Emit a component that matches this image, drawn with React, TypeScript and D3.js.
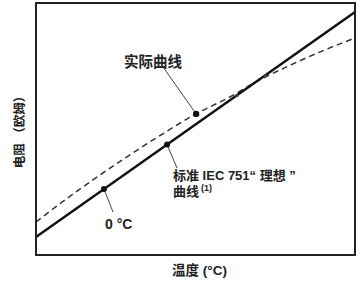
import React from "react";
import * as d3 from "d3";

const temps = [0, 1, 2, 3, 4, 5, 6, 7, 8, 9, 10];
const actualValues = [1.31, 2.27, 3.17, 4.02, 4.83, 5.59, 6.22, 6.94, 7.55, 8.11, 8.61];
const idealTemps = [0, 10];
const idealValues = [0.714, 9.64];
const idealMarkers = [
  { t: 2.13, v: 2.62 },
  { t: 4.11, v: 4.38 },
];
const actualMarkers = [{ t: 5.02, v: 5.6 }];
const crossMarkers = [
  { t: 6.3, v: 6.33 },
  { t: 7.18, v: 7.1 },
];
const xTitle = "温度 (°C)";
const yTitle = "电阻 （欧姆）";
const actualLabel = "实际曲线";
const zeroLabel = "0 °C";
const idealLabel1 = "标准 IEC 751“ 理想 ”";
const idealLabel2 = "曲线";
const idealNote = "(1)";

const W = 361;
const H = 281;
const L = 36, R = 355, T = 3, B = 255;
const FONT = "'Liberation Sans', 'Noto Sans CJK SC', sans-serif";

export default function App() {
  const x = d3.scaleLinear().domain([0, 10]).range([L, R]);
  const y = d3.scaleLinear().domain([0, 10]).range([B, T]);
  const line = d3
    .line<[number, number]>()
    .x((d) => x(d[0]))
    .y((d) => y(d[1]))
    .curve(d3.curveMonotoneX);
  const actualPts = temps.map((t, i) => [t, actualValues[i]] as [number, number]);
  const idealPts = idealTemps.map((t, i) => [t, idealValues[i]] as [number, number]);

  const m0 = idealMarkers[0];
  const m1 = idealMarkers[1];
  const a0 = actualMarkers[0];

  return (
    <svg
      width={W}
      height={H}
      style={{ position: "absolute", left: 0, top: 0, background: "#fff" }}
      fontFamily={FONT}
    >
      <defs>
        <clipPath id="plot">
          <rect x={L} y={T} width={R - L} height={B - T} />
        </clipPath>
      </defs>
      <g clipPath="url(#plot)">
        <path d={line(actualPts) || ""} fill="none" stroke="#333" strokeWidth={1.5} strokeDasharray="6,4" />
        <path d={line(idealPts) || ""} fill="none" stroke="#111" strokeWidth={2.4} />
      </g>
      <line x1={163} y1={67} x2={x(a0.t)} y2={y(a0.v)} stroke="#444" strokeWidth={1} />
      <line x1={x(m0.t)} y1={y(m0.v)} x2={113} y2={212} stroke="#444" strokeWidth={1} />
      <line x1={x(m1.t)} y1={y(m1.v)} x2={177} y2={168} stroke="#444" strokeWidth={1} />
      {idealMarkers.map((m, i) => (
        <circle key={"i" + i} cx={x(m.t)} cy={y(m.v)} r={3} fill="#111" />
      ))}
      {actualMarkers.map((m, i) => (
        <circle key={"a" + i} cx={x(m.t)} cy={y(m.v)} r={3.2} fill="#111" />
      ))}
      {crossMarkers.map((m, i) => (
        <circle key={"c" + i} cx={x(m.t)} cy={y(m.v)} r={1.8} fill="#444" />
      ))}
      <rect x={L} y={T} width={R - L} height={B - T} fill="none" stroke="#222" strokeWidth={2} />
      <text x={124} y={67} fontSize={14.5} fontWeight="bold" fill="#222">{actualLabel}</text>
      <text x={105} y={229} fontSize={14} fontWeight="bold" fill="#222">{zeroLabel}</text>
      <text x={173} y={180} fontSize={13} fontWeight="bold" fill="#222">{idealLabel1}</text>
      <text x={173} y={196} fontSize={13} fontWeight="bold" fill="#222">
        {idealLabel2}
        <tspan dx={2} dy={-5} fontSize={9}>{idealNote}</tspan>
      </text>
      <text x={(L + R) / 2 + 4} y={275} textAnchor="middle" fontSize={13.5} fontWeight="bold" fill="#222">{xTitle}</text>
      <text
        transform={`translate(24, 129) rotate(-90)`}
        textAnchor="middle"
        fontSize={12.5}
        fontWeight="bold"
        fill="#222"
      >
        {yTitle}
      </text>
    </svg>
  );
}
